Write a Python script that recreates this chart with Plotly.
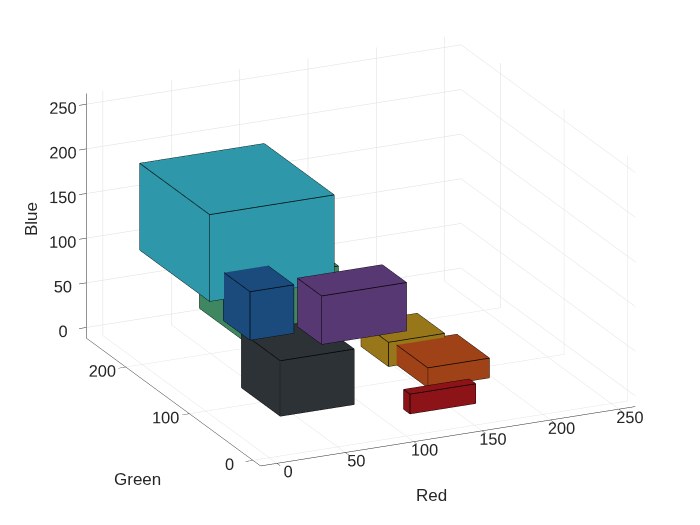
import plotly.graph_objects as go

# Box data: centre (R, G, B) and extent along each axis
box_names = ["teal", "green", "darkblue", "purple", "darkgrey", "gold", "orange", "red"]
red_center = [46, 62, 27, 86, 45, 152, 160, 138]
green_center = [150, 134, 75, 55, 52, 117, 72, 29]
blue_center = [162, 94, 116, 110, 50, 22, 20, 8]
red_size = [91, 69, 32, 62, 54, 41, 45, 48]
green_size = [110, 70, 42, 38, 61, 43, 51, 10]
blue_size = [97, 67, 54, 54, 62, 27, 22, 22]
face_colors = ["#2e97a9", "#3f8761", "#1b4b7d", "#573873", "#2d3236",
               "#98761a", "#a04217", "#8c1418"]

red_ticks = [0, 50, 100, 150, 200, 250]
green_ticks = [0, 100, 200]
blue_ticks = [0, 50, 100, 150, 200, 250]
axis_range = [-12, 262]

fig = go.Figure()

I = [0, 0, 4, 4, 0, 0, 2, 2, 0, 0, 1, 1]
J = [1, 2, 5, 6, 1, 5, 3, 7, 3, 7, 2, 6]
K = [2, 3, 6, 7, 5, 4, 7, 6, 7, 4, 6, 5]
edges = [(0, 1), (1, 2), (2, 3), (3, 0), (4, 5), (5, 6), (6, 7), (7, 4),
         (0, 4), (1, 5), (2, 6), (3, 7)]

for n in range(len(box_names)):
    x0 = red_center[n] - red_size[n] / 2
    x1 = red_center[n] + red_size[n] / 2
    y0 = green_center[n] - green_size[n] / 2
    y1 = green_center[n] + green_size[n] / 2
    z0 = blue_center[n] - blue_size[n] / 2
    z1 = blue_center[n] + blue_size[n] / 2
    vx = [x0, x1, x1, x0, x0, x1, x1, x0]
    vy = [y0, y0, y1, y1, y0, y0, y1, y1]
    vz = [z0, z0, z0, z0, z1, z1, z1, z1]
    fig.add_trace(go.Mesh3d(
        x=vx, y=vy, z=vz, i=I, j=J, k=K,
        color=face_colors[n], opacity=1, flatshading=True,
        lighting=dict(ambient=1, diffuse=0, specular=0, roughness=1, fresnel=0),
        hoverinfo="skip", showscale=False, name=box_names[n]))
    ex, ey, ez = [], [], []
    for a, b in edges:
        ex += [vx[a], vx[b], None]
        ey += [vy[a], vy[b], None]
        ez += [vz[a], vz[b], None]
    fig.add_trace(go.Scatter3d(x=ex, y=ey, z=ez, mode="lines",
                               line=dict(color="black", width=1.5),
                               hoverinfo="skip", showlegend=False))

axis_common = dict(
    range=axis_range, showbackground=False, gridcolor="#dedede", gridwidth=1,
    zeroline=False, showline=True, linecolor="#262626", linewidth=1,
    ticks="outside", tickcolor="#262626", ticklen=8, tickangle=0,
    tickfont=dict(family="Liberation Sans, Arial", size=14, color="#262626"),
    showspikes=False, title=dict(text=""),
)

k = 1.574
cx, cy, cz = -0.0098, 0.0046, -0.083
fig.update_layout(
    width=700, height=525, showlegend=False,
    paper_bgcolor="white", plot_bgcolor="white",
    margin=dict(l=0, r=0, t=0, b=0),
    font=dict(family="Liberation Sans, Arial", size=14, color="#262626"),
    scene=dict(
        domain=dict(x=[0.0, 1.0], y=[0.0, 1.0]),
        xaxis=dict(axis_common, tickvals=red_ticks),
        yaxis=dict(axis_common, tickvals=green_ticks),
        zaxis=dict(axis_common, tickvals=blue_ticks),
        aspectmode="manual", aspectratio=dict(x=1 * k, y=1 * k, z=0.63 * k),
        camera=dict(eye=dict(x=-0.79 + cx, y=-1.70 + cy, z=0.68 + cz),
                    up=dict(x=0, y=0, z=1), center=dict(x=cx, y=cy, z=cz),
                    projection=dict(type="orthographic")),
    ),
    annotations=[
        dict(text="Red", x=423 / 700, y=(525 - 487) / 525, xref="paper", yref="paper",
             xanchor="center", yanchor="middle",
             showarrow=False, font=dict(size=17, color="#262626")),
        dict(text="Green", x=129 / 700, y=(525 - 471) / 525, xref="paper", yref="paper",
             xanchor="center", yanchor="middle",
             showarrow=False, font=dict(size=17, color="#262626")),
        dict(text="Blue", x=24 / 700, y=(525 - 211) / 525, xref="paper", yref="paper",
             xanchor="center", yanchor="middle",
             showarrow=False, textangle=-90, font=dict(size=17, color="#262626")),
    ],
)

fig.write_html("out.html")
